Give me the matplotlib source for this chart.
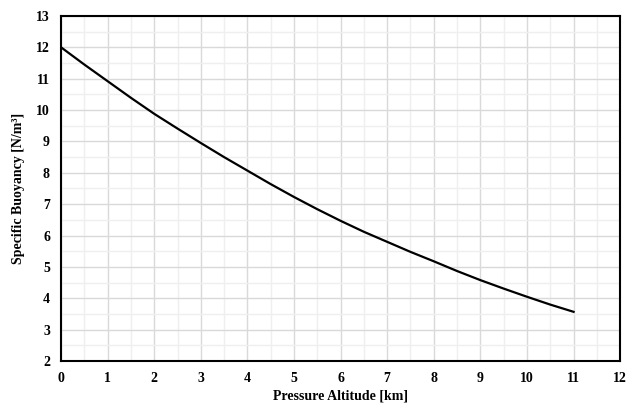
import matplotlib
matplotlib.use("Agg")
import matplotlib.pyplot as plt
from matplotlib.ticker import MultipleLocator

# Pressure altitude [km] and specific buoyancy [N/m^3]
altitude_km = [0, 0.5, 1, 1.5, 2, 2.5, 3, 3.5, 4, 4.5, 5, 5.5,
               6, 6.5, 7, 7.5, 8, 8.5, 9, 9.5, 10, 10.5, 11]
buoyancy = [12.0, 11.45, 10.92, 10.39, 9.88, 9.41, 8.95, 8.5, 8.07, 7.64,
            7.23, 6.84, 6.47, 6.12, 5.8, 5.48, 5.18, 4.87, 4.58, 4.31,
            4.05, 3.8, 3.57]

x_ticks = list(range(0, 13))
y_ticks = list(range(2, 14))

plt.rcParams["font.family"] = ["Liberation Serif", "DejaVu Serif"]
plt.rcParams["font.weight"] = "bold"

fig = plt.figure(figsize=(6.39, 4.08), dpi=100, facecolor="white")
ax = fig.add_axes([0.0955, 0.115, 0.875, 0.846])

ax.plot(altitude_km, buoyancy, color="black", lw=1.6, zorder=3)

ax.set_xlim(0, 12)
ax.set_ylim(2, 13)
ax.set_xticks(x_ticks)
ax.set_yticks(y_ticks)
ax.xaxis.set_minor_locator(MultipleLocator(0.5))
ax.yaxis.set_minor_locator(MultipleLocator(0.5))
ax.grid(True, which="major", color="#d9d9d9", lw=1.0, zorder=0)
ax.grid(True, which="minor", color="#efefef", lw=1.0, zorder=0)
ax.set_axisbelow(True)

ax.tick_params(which="both", length=0, labelsize=10, pad=8)
for lab in ax.get_xticklabels() + ax.get_yticklabels():
    lab.set_fontweight("bold")

for spine in ax.spines.values():
    spine.set_color("black")
    spine.set_linewidth(1.5)

ax.set_xlabel("Pressure Altitude [km]", fontsize=10, fontweight="bold", labelpad=3)
ax.set_ylabel("Specific Buoyancy [N/m\u00b3]", fontsize=10, fontweight="bold", labelpad=8)

fig.savefig("out.png", dpi=100, facecolor="white")
